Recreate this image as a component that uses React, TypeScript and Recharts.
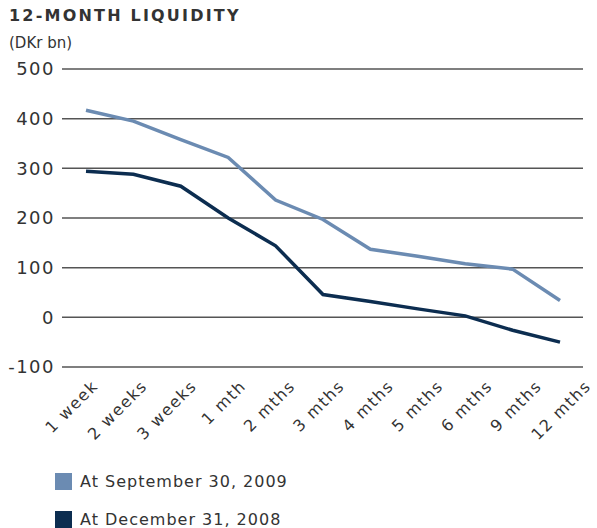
import { CartesianGrid, Line, LineChart, XAxis, YAxis } from "recharts";

const periods = [
  "1 week",
  "2 weeks",
  "3 weeks",
  "1 mth",
  "2 mths",
  "3 mths",
  "4 mths",
  "5 mths",
  "6 mths",
  "9 mths",
  "12 mths",
];
const sep2009 = [417, 395, 358, 322, 236, 197, 137, 123, 108, 97, 34];
const dec2008 = [294, 288, 264, 200, 144, 46, 32, 17, 3, -26, -50];
const yTicks = [-100, 0, 100, 200, 300, 400, 500];

const LIGHT = "#6b8bb2";
const DARK = "#0c2d50";
const TEXT = "#333";
const FONT = "'DejaVu Sans', sans-serif";

const data = periods.map((p, i) => ({
  period: p,
  sep2009: sep2009[i],
  dec2008: dec2008[i],
}));

const legendItems = [
  { label: "At September 30, 2009", color: LIGHT },
  { label: "At December 31, 2008", color: DARK },
];

// labels in the original drift a little wider apart than the points
function PeriodTick({ x, y, payload, index }: any) {
  const ax = x + 13 + index * 1.9;
  const ay = y + 12;
  return (
    <text
      x={ax}
      y={ay}
      transform={`rotate(-45 ${ax} ${ay})`}
      textAnchor="end"
      fontSize={16}
      fontFamily={FONT}
      letterSpacing={1.5}
      fill={TEXT}
    >
      {payload.value}
    </text>
  );
}

export default function App() {
  return (
    <div
      style={{
        position: "absolute",
        left: 0,
        top: 0,
        width: 597,
        height: 528,
        background: "#fff",
        fontFamily: FONT,
        color: TEXT,
      }}
    >
      <div
        style={{
          position: "absolute",
          left: 9,
          top: 6,
          fontSize: 16,
          fontWeight: "bold",
          letterSpacing: 2.2,
        }}
      >
        12-MONTH LIQUIDITY
      </div>
      <div style={{ position: "absolute", left: 9, top: 34, fontSize: 15 }}>
        (DKr bn)
      </div>
      <LineChart
        width={597}
        height={528}
        data={data}
        margin={{ top: 69, right: 14, bottom: 101, left: 12 }}
      >
        <CartesianGrid vertical={false} stroke="#555" strokeWidth={1.5} />
        <XAxis
          dataKey="period"
          interval={0}
          axisLine={false}
          tickLine={false}
          padding={{ left: 24, right: 23 }}
          height={60}
          tick={<PeriodTick />}
        />
        <YAxis
          width={50}
          domain={[-100, 500]}
          ticks={yTicks}
          axisLine={false}
          tickLine={false}
          tickSize={0}
          tickMargin={7}
          tick={{ fontSize: 18, fill: TEXT, fontFamily: FONT, letterSpacing: 1.5 }}
        />
        <Line
          dataKey="sep2009"
          stroke={LIGHT}
          strokeWidth={3.5}
          dot={false}
          isAnimationActive={false}
        />
        <Line
          dataKey="dec2008"
          stroke={DARK}
          strokeWidth={3.5}
          dot={false}
          isAnimationActive={false}
        />
      </LineChart>
      <div style={{ position: "absolute", left: 55, top: 462 }}>
        {legendItems.map((it) => (
          <div
            key={it.label}
            style={{ display: "flex", alignItems: "center", height: 38 }}
          >
            <span
              style={{
                width: 17,
                height: 17,
                background: it.color,
                marginRight: 8,
              }}
            />
            <span style={{ fontSize: 16, letterSpacing: 1 }}>{it.label}</span>
          </div>
        ))}
      </div>
    </div>
  );
}
